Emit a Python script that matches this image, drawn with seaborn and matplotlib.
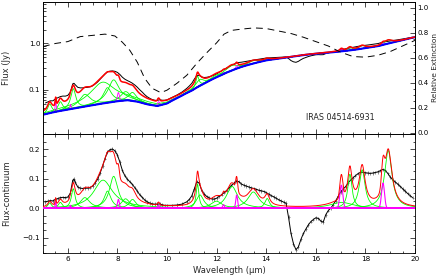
import numpy as np
import pandas as pd
import matplotlib
matplotlib.use("Agg")
import matplotlib.pyplot as plt
import seaborn as sns
from matplotlib.ticker import MultipleLocator, LogLocator, NullFormatter, FixedLocator, FixedFormatter

# ---------------- data ----------------
# continuum (blue), Jy
cont_wave = [5.0, 5.5, 6.0, 6.5, 7.0, 7.5, 8.0, 8.4, 8.8, 9.2, 9.6, 10.0, 10.5, 11.0,
             11.5, 12.0, 12.5, 13.0, 13.5, 14.0, 14.5, 15.0, 15.5, 16.0, 16.5, 17.0,
             17.5, 18.0, 18.5, 19.0, 19.5, 20.0]
cont_flux = [0.0286, 0.033, 0.037, 0.041, 0.046, 0.051, 0.056, 0.059, 0.055, 0.048,
             0.044, 0.050, 0.069, 0.095, 0.135, 0.185, 0.245, 0.31, 0.37, 0.43, 0.47,
             0.51, 0.56, 0.60, 0.63, 0.67, 0.72, 0.79, 0.87, 1.02, 1.18, 1.37]

# relative extinction curve (dashed, right axis)
ext_wave = [5.0, 5.5, 6.0, 6.5, 7.0, 7.5, 7.9, 8.2, 8.5, 8.8, 9.1, 9.4, 9.75, 10.0,
            10.4, 10.8, 11.2, 11.6, 12.0, 12.3, 12.6, 13.0, 13.5, 14.0, 14.5, 15.0,
            15.5, 16.0, 16.5, 17.0, 17.5, 18.0, 18.5, 19.0, 19.5, 20.0]
ext_val = [0.69, 0.715, 0.73, 0.77, 0.78, 0.79, 0.775, 0.725, 0.66, 0.565, 0.435, 0.355,
           0.32, 0.34, 0.395, 0.46, 0.555, 0.64, 0.72, 0.79, 0.82, 0.83, 0.84, 0.835,
           0.815, 0.795, 0.765, 0.73, 0.695, 0.645, 0.61, 0.605, 0.62, 0.65, 0.695, 0.74]

# observed flux minus continuum (black points)
data_wave = [5.1, 5.2, 5.3, 5.4, 5.5, 5.6, 5.7, 5.8, 5.9, 6.0, 6.1, 6.2, 6.25, 6.3, 6.4,
             6.5, 6.6, 6.7, 6.8, 6.9, 7.0, 7.1, 7.2, 7.3, 7.4, 7.5, 7.6, 7.7, 7.8, 7.9,
             8.0, 8.1, 8.2, 8.3, 8.4, 8.5, 8.6, 8.7, 8.8, 8.9, 9.0, 9.1, 9.2, 9.3, 9.4,
             9.5, 9.6, 9.7, 9.8, 9.9, 10.0, 10.2, 10.4, 10.6, 10.8, 10.9, 11.0, 11.1,
             11.2, 11.3, 11.4, 11.5, 11.6, 11.7, 11.8, 11.9, 12.0, 12.1, 12.2, 12.3,
             12.4, 12.5, 12.6, 12.7, 12.8, 12.9, 13.0, 13.1, 13.2, 13.3, 13.4, 13.5,
             13.6, 13.7, 13.8, 13.9, 14.0, 14.1, 14.2, 14.3, 14.4, 14.5, 14.6, 14.7,
             14.8, 14.9, 15.0, 15.1, 15.2, 15.3, 15.4, 15.5, 15.6, 15.7, 15.8, 15.9,
             16.0, 16.1, 16.2, 16.3, 16.4, 16.5, 16.6, 16.7, 16.8, 16.9, 17.0, 17.1,
             17.2, 17.3, 17.4, 17.5, 17.6, 17.7, 17.8, 17.9, 18.0, 18.1, 18.2, 18.3,
             18.4, 18.5, 18.6, 18.7, 18.8, 18.9, 19.0, 19.1, 19.2, 19.3, 19.4, 19.5,
             19.6, 19.7, 19.8, 19.9]
data_res = [0.022, 0.024, 0.026, 0.025, 0.030, 0.033, 0.036, 0.037, 0.036, 0.038, 0.050,
            0.095, 0.098, 0.088, 0.072, 0.068, 0.067, 0.068, 0.068, 0.070, 0.075, 0.085,
            0.098, 0.118, 0.142, 0.168, 0.190, 0.198, 0.200, 0.194, 0.180, 0.156, 0.128,
            0.110, 0.098, 0.090, 0.081, 0.070, 0.058, 0.046, 0.037, 0.028, 0.022, 0.018,
            0.015, 0.014, 0.014, 0.015, 0.012, 0.010, 0.010, 0.010, 0.011, 0.014, 0.022,
            0.030, 0.042, 0.065, 0.090, 0.085, 0.060, 0.048, 0.040, 0.035, 0.032, 0.031,
            0.034, 0.040, 0.046, 0.053, 0.060, 0.068, 0.077, 0.085, 0.092, 0.090, 0.082,
            0.078, 0.075, 0.072, 0.069, 0.067, 0.064, 0.061, 0.059, 0.057, 0.053, 0.048,
            0.043, 0.039, 0.034, 0.029, 0.025, 0.021, 0.017, -0.030, -0.085, -0.120,
            -0.140, -0.130, -0.105, -0.085, -0.070, -0.056, -0.045, -0.038, -0.032,
            -0.034, -0.043, -0.047, -0.022, -0.008, 0.000, 0.012, 0.025, 0.040, 0.055,
            0.065, 0.073, 0.085, 0.095, 0.103, 0.110, 0.117, 0.121, 0.122, 0.120, 0.119,
            0.118, 0.119, 0.121, 0.123, 0.127, 0.131, 0.128, 0.118, 0.106, 0.096, 0.089,
            0.082, 0.074, 0.066, 0.058, 0.050, 0.043, 0.036]
data_err = 0.006

# dust features (green): centre (um), fractional FWHM, peak (Jy)
feat_center = [5.27, 5.70, 6.22, 6.69, 7.42, 7.60, 7.85, 8.33, 8.61, 11.23, 11.33, 11.99,
               12.62, 13.48, 14.04, 17.04, 17.375, 17.87, 18.92]
feat_frac = [0.034, 0.035, 0.030, 0.070, 0.126, 0.044, 0.053, 0.050, 0.039, 0.012, 0.032,
             0.045, 0.042, 0.040, 0.016, 0.065, 0.012, 0.016, 0.019]
feat_peak = [0.018, 0.020, 0.066, 0.036, 0.095, 0.058, 0.108, 0.032, 0.030, 0.082, 0.045,
             0.024, 0.074, 0.055, 0.033, 0.020, 0.115, 0.130, 0.195]

# emission lines (magenta): centre (um), FWHM (um), peak (Jy)
line_center = [5.51, 6.11, 8.04, 9.66, 12.28, 12.81, 17.03, 18.71]
line_fwhm = [0.05, 0.05, 0.09, 0.10, 0.09, 0.09, 0.14, 0.14]
line_peak = [0.022, 0.010, 0.030, 0.010, 0.012, 0.045, 0.078, 0.085]

# ---------------- model evaluation ----------------
wave = np.linspace(5.0, 20.0, 1501)
cont = np.interp(wave, cont_wave, cont_flux)


def drude(lam, c, frac, peak):
    return peak * frac ** 2 / ((lam / c - c / lam) ** 2 + frac ** 2)


def gauss(lam, c, fwhm, peak):
    return peak * np.exp(-4 * np.log(2) * (lam - c) ** 2 / fwhm ** 2)


feats = [drude(wave, c, f, p) for c, f, p in zip(feat_center, feat_frac, feat_peak)]
lines = [gauss(wave, c, w, p) for c, w, p in zip(line_center, line_fwhm, line_peak)]
model = np.sum(feats, axis=0) + np.sum(lines, axis=0)

dwave = np.array(data_wave)
dres = np.array(data_res)
dflux = np.interp(dwave, cont_wave, cont_flux) + dres

# ---------------- styling ----------------
sns.set_theme(style="ticks")
plt.rcParams['font.family'] = ['DejaVu Sans']
plt.rcParams.update({
    'xtick.direction': 'in', 'ytick.direction': 'in',
    'xtick.major.size': 3.5, 'ytick.major.size': 3.5,
    'xtick.minor.size': 1.8, 'ytick.minor.size': 1.8,
    'xtick.major.width': 0.5, 'ytick.major.width': 0.5,
    'xtick.minor.width': 0.5, 'ytick.minor.width': 0.5,
    'xtick.labelsize': 5.2, 'ytick.labelsize': 5.2,
    'xtick.major.pad': 2.5, 'ytick.major.pad': 2.0,
    'axes.linewidth': 0.6, 'axes.edgecolor': 'black',
    'xtick.color': 'black', 'ytick.color': 'black',
})

GREEN = '#00ff00'
MAGENTA = '#ff00ff'
RED = '#ff0000'
BLUE = '#0000ff'

fig = plt.figure(figsize=(4.41, 2.75), dpi=100)
L, R = 43 / 441, 415 / 441
ymid = 1 - 133.5 / 275
ax1 = fig.add_axes([L, ymid, R - L, (1 - 2 / 275) - ymid])
ax3 = fig.add_axes([L, 1 - 253 / 275, R - L, ymid - (1 - 253 / 275)])

# ---- top panel ----
sns.lineplot(x=dwave, y=dflux, ax=ax1, color='black', linewidth=0.7, sort=False,
             estimator=None)
for f in feats:
    sns.lineplot(x=wave, y=cont + f, ax=ax1, color=GREEN, linewidth=0.6, sort=False,
                 estimator=None)
for ln in lines:
    sns.lineplot(x=wave, y=cont + ln, ax=ax1, color=MAGENTA, linewidth=0.6, sort=False,
                 estimator=None)
sns.lineplot(x=wave, y=cont, ax=ax1, color=BLUE, linewidth=1.5, sort=False,
             estimator=None)
sns.lineplot(x=wave, y=cont + model, ax=ax1, color=RED, linewidth=1.1, sort=False,
             estimator=None)
ax1.set_yscale('log')
ax1.set_xlim(5, 20)
ax1.set_ylim(0.0112, 7.9)
ax1.yaxis.set_major_locator(FixedLocator([0.1, 1.0]))
ax1.yaxis.set_major_formatter(FixedFormatter(['0.1', '1.0']))
ax1.yaxis.set_minor_locator(LogLocator(base=10, subs=np.arange(2, 10)))
ax1.yaxis.set_minor_formatter(NullFormatter())
ax1.xaxis.set_major_locator(MultipleLocator(2))
ax1.xaxis.set_minor_locator(MultipleLocator(0.5))
ax1.tick_params(axis='x', which='both', top=True, bottom=True, labelbottom=False)
ax1.tick_params(axis='y', which='both', left=True, right=False)
ax1.set_xlabel('')
ax1.set_ylabel('Flux (Jy)', fontsize=6)
ax1.yaxis.set_label_coords(-0.085, 0.5)
ax1.text(0.798, 0.122, 'IRAS 04514-6931', transform=ax1.transAxes, fontsize=5.8,
         ha='center', va='center')

ax2 = ax1.twinx()
sns.lineplot(x=ext_wave, y=ext_val, ax=ax2, color='black', linewidth=0.7,
             linestyle=(0, (7, 5)), sort=False, estimator=None)
ax2.set_ylim(-0.008, 1.048)
ax2.set_xlim(5, 20)
ax2.yaxis.set_major_locator(MultipleLocator(0.2))
ax2.yaxis.set_minor_locator(MultipleLocator(0.05))
ax2.tick_params(axis='y', which='both', right=True, left=False, labelsize=5.0, pad=1.5)
ax2.set_ylabel('Relative Extinction', fontsize=5.3)
ax2.yaxis.set_label_coords(1.046, 0.5)
for sp in ax2.spines.values():
    sp.set_linewidth(0.6)

# ---- bottom panel ----
ax3.errorbar(dwave, dres, yerr=data_err, xerr=0.04, fmt='none', ecolor='#606060',
             elinewidth=0.5, capsize=0, zorder=1)
sns.lineplot(x=dwave, y=dres, ax=ax3, color='black', linewidth=0.7, sort=False,
             estimator=None, zorder=2)
for f in feats:
    sns.lineplot(x=wave, y=f, ax=ax3, color=GREEN, linewidth=0.6, sort=False,
                 estimator=None, zorder=3)
for ln in lines:
    sns.lineplot(x=wave, y=ln, ax=ax3, color=MAGENTA, linewidth=0.8, sort=False,
                 estimator=None, zorder=4)
sns.lineplot(x=wave, y=model, ax=ax3, color=RED, linewidth=0.7, sort=False,
             estimator=None, zorder=5)
ax3.axhline(0, color=MAGENTA, linewidth=1.2, zorder=4.5)
ax3.set_xlim(5, 20)
ax3.set_ylim(-0.151, 0.2525)
ax3.xaxis.set_major_locator(MultipleLocator(2))
ax3.xaxis.set_minor_locator(MultipleLocator(0.5))
ax3.yaxis.set_major_locator(MultipleLocator(0.1))
ax3.yaxis.set_minor_locator(MultipleLocator(0.025))
ax3.tick_params(axis='x', which='both', top=True, bottom=True)
ax3.tick_params(axis='y', which='both', left=True, right=True)
ax3.set_ylabel('Flux-continuum', fontsize=6)
ax3.yaxis.set_label_coords(-0.085, 0.5)
ax3.set_xlabel('Wavelength (\u03bcm)', fontsize=6)
ax3.xaxis.set_label_coords(0.5, -0.105)

fig.savefig('out.png', dpi=100)
